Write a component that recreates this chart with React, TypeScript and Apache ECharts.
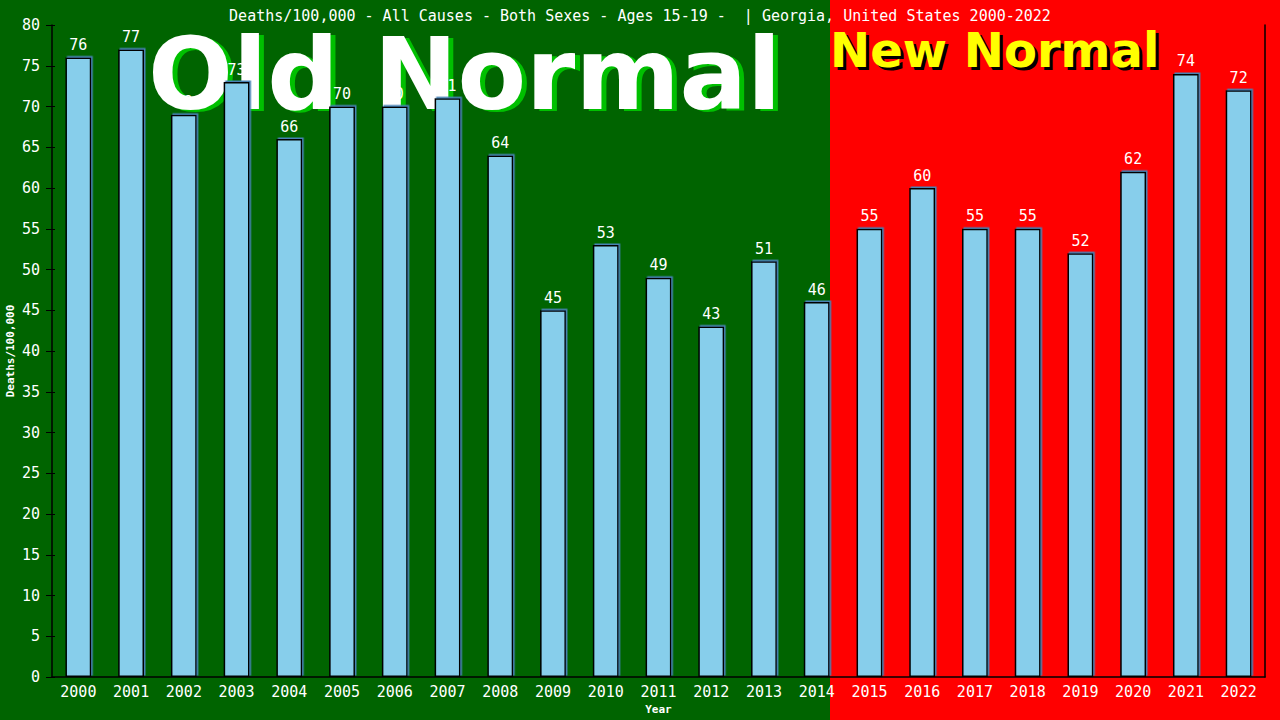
import { useEffect, useRef } from 'react';
import * as echarts from 'echarts';

const years = [
  '2000', '2001', '2002', '2003', '2004', '2005', '2006', '2007', '2008', '2009', '2010', '2011',
  '2012', '2013', '2014', '2015', '2016', '2017', '2018', '2019', '2020', '2021', '2022',
];
const deathRates = [76, 77, 69, 73, 66, 70, 70, 71, 64, 45, 53, 49, 43, 51, 46, 55, 60, 55, 55, 52, 62, 74, 72];

const titleText = 'Deaths/100,000 - All Causes - Both Sexes - Ages 15-19 -  | Georgia, United States 2000-2022';
const oldLabel = 'Old Normal';
const newLabel = 'New Normal';

const MONO = '"DejaVu Sans Mono", monospace';
const SANS = '"DejaVu Sans", Verdana, sans-serif';

export default function App() {
  const chartRef = useRef<HTMLDivElement>(null);

  useEffect(() => {
    if (!chartRef.current) return;
    const chart = echarts.init(chartRef.current, null, { renderer: 'svg' });

    // same 0-80 scale, used for the extra axis decorations
    const scale = { type: 'value' as const, min: 0, max: 80, interval: 5 };

    chart.setOption({
      animation: false,
      backgroundColor: '#006400',
      title: {
        text: titleText,
        left: 'center',
        top: 3,
        textStyle: { color: '#fff', fontFamily: MONO, fontSize: 15, fontWeight: 'normal' },
      },
      grid: { left: 52, right: 15, top: 25, bottom: 43, outerBoundsMode: 'none', containLabel: false },
      graphic: [
        // red "new normal" background
        { type: 'rect', z: -10, shape: { x: 830, y: 0, width: 450, height: 720 }, style: { fill: '#ff0000' } },
        {
          type: 'text', z: -5, x: 153, y: 26,
          style: { text: oldLabel, fill: '#00c000', font: `bold 100px ${SANS}`, textVerticalAlign: 'top' },
        },
        {
          type: 'text', z: -4, x: 148, y: 24,
          style: { text: oldLabel, fill: '#ffffff', font: `bold 100px ${SANS}`, textVerticalAlign: 'top' },
        },
        {
          type: 'text', z: -5, x: 833, y: 29,
          style: { text: newLabel, fill: '#000000', font: `bold 48px ${SANS}`, textVerticalAlign: 'top' },
        },
        {
          type: 'text', z: -4, x: 830, y: 26,
          style: { text: newLabel, fill: '#ffff00', font: `bold 48px ${SANS}`, textVerticalAlign: 'top' },
        },
      ],
      xAxis: {
        type: 'category',
        data: years,
        name: 'Year',
        nameLocation: 'middle',
        nameGap: 27,
        nameMoveOverlap: false,
        nameTextStyle: { color: '#fff', fontFamily: MONO, fontSize: 11, fontWeight: 'bold' },
        axisLine: { lineStyle: { color: '#000', width: 1.5 } },
        axisTick: { show: false },
        axisLabel: { color: '#fff', fontFamily: MONO, fontSize: 15, margin: 7 },
      },
      yAxis: [
        {
          ...scale,
          name: 'Deaths/100,000',
          nameLocation: 'middle',
          nameRotate: 90,
          nameGap: 36,
          nameMoveOverlap: false,
          nameTextStyle: { color: '#fff', fontFamily: MONO, fontSize: 11, fontWeight: 'bold' },
          axisLine: { show: true, lineStyle: { color: '#000', width: 1.5 } },
          axisTick: { show: true, length: 6, lineStyle: { color: '#000' } },
          axisLabel: { color: '#fff', fontFamily: MONO, fontSize: 15, margin: 12 },
          splitLine: { show: false },
        },
        {
          ...scale,
          position: 'right',
          axisLine: { show: true, lineStyle: { color: '#000', width: 1.5 } },
          axisTick: { show: false },
          axisLabel: { show: false },
          splitLine: { show: false },
        },
        {
          // inner half of the left ticks
          ...scale,
          position: 'left',
          axisLine: { show: false },
          axisTick: { show: true, inside: true, length: 3, lineStyle: { color: '#000' } },
          axisLabel: { show: false },
          splitLine: { show: false },
        },
      ],
      series: [
        {
          type: 'bar',
          data: deathRates,
          barWidth: '49%',
          itemStyle: {
            color: '#87ceeb',
            borderColor: '#000',
            borderWidth: 1.5,
            shadowColor: '#4682b4',
            shadowBlur: 0,
            shadowOffsetX: 1.5,
            shadowOffsetY: -1.5,
          },
          label: {
            show: true,
            position: 'top',
            distance: 5,
            color: '#fff',
            fontFamily: MONO,
            fontSize: 15,
          },
        },
      ],
    });

    return () => {
      chart.dispose();
    };
  }, []);

  return <div ref={chartRef} style={{ position: 'fixed', left: 0, top: 0, width: 1280, height: 720 }} />;
}
